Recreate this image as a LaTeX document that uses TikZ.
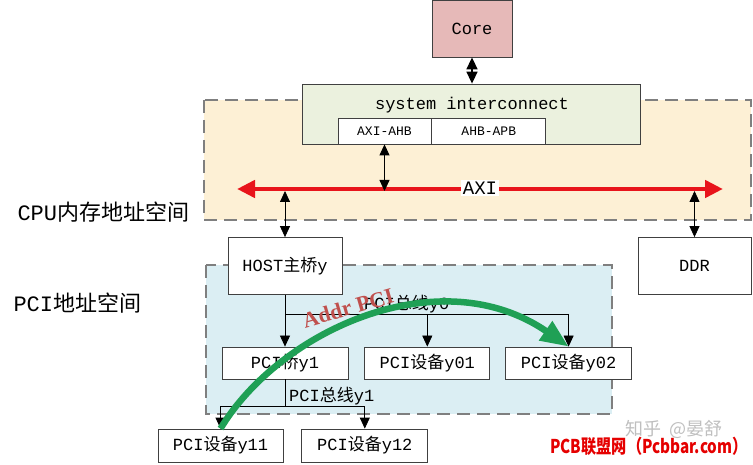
\documentclass[tikz,border=0pt]{standalone}
\usepackage{fontspec}
\setmainfont{Liberation Mono}
\newfontfamily\cjk{Noto Sans CJK SC}
\newfontfamily\wmfont[FakeStretch=0.8]{Noto Sans CJK SC}
\newfontfamily\addrfont{Liberation Serif}
\usetikzlibrary{arrows.meta,positioning}

\definecolor{coreFill}{HTML}{E6B9B8}
\definecolor{sicFill}{HTML}{EBF1DE}
\definecolor{cpuFill}{HTML}{FDF0D5}
\definecolor{pciFill}{HTML}{DBEEF3}
\definecolor{axiRed}{HTML}{E8141B}
\definecolor{pathGreen}{HTML}{1FA055}
\definecolor{addrRed}{HTML}{C0504D}
\definecolor{edgeGray}{HTML}{7F7F7F}
\definecolor{boxGray}{HTML}{404040}

\tikzset{
  box/.style={draw=boxGray, line width=0.8pt, fill=white, inner sep=0pt,
    font=\fontsize{17}{20}\selectfont},
  region/.style={draw=edgeGray, line width=1.5pt, dash pattern=on 13pt off 7pt},
  arr/.style={-{Triangle[length=11pt,width=10pt]}, line width=0.8pt},
  dbl/.style={{Triangle[length=11pt,width=10pt]}-{Triangle[length=11pt,width=10pt]}, line width=0.8pt},
  space/.style={anchor=west, font=\fontsize{22}{26}\selectfont},
  buslabel/.style={anchor=south west, inner sep=1pt, font=\fontsize{17}{20}\selectfont},
}

\begin{document}
\begin{tikzpicture}[x=1pt, y=-1pt]
		\useasboundingbox (0,0) rectangle (753,465);
		
		% ---------------------- 两个地址空间（虚线底框）----------------------
		\draw[region, fill=cpuFill] (204,100) rectangle (751,220);
		\draw[region, fill=pciFill] (206,265) rectangle (612,414);
		\node (cpuspace) [space] at (14,212) {CPU{\cjk 内存地址空间}};
		\node (pcispace) [space] at (10,303) {PCI{\cjk 地址空间}};
		
		% ---------------------- Core 与 system interconnect ----------------------
		\node (core) [box, fill=coreFill, minimum width=80, minimum height=57] at (472,28.5) {Core};
		\node (sic) [box, fill=sicFill, minimum width=338, minimum height=60] at (471,114) {};
		\node (sictext) [font=\fontsize{17}{20}\selectfont] at (472,105) {system interconnect};
		\node (axiahb) [box, minimum width=93, minimum height=26, font=\fontsize{13}{16}\selectfont] at (384.5,131) {AXI-AHB};
		\node (ahbapb) [box, minimum width=114, minimum height=26, font=\fontsize{13}{16}\selectfont, right=0pt of axiahb] {AHB-APB};
		\draw[{Triangle[length=12pt,width=11pt]}-{Triangle[length=12pt,width=11pt]}, line width=1.6pt] (core) -- (sic.north -| core);
		
		% ---------------------- AXI 总线 ----------------------
		\coordinate (axiL) at (237,189);
		\coordinate (axiR) at (723,189);
		\draw[axiRed, line width=4.5pt, {Triangle[length=18pt,width=17pt]}-{Triangle[length=18pt,width=17pt]}] (axiL) -- (axiR);
		\node (axilabel) [fill=white, inner sep=1.5pt, font=\fontsize{19}{22}\selectfont] at (480,188) {AXI};
		\draw[dbl] (axiahb.south) -- ([yshift=-2pt]axiahb.south |- axiL);
		
		% ---------------------- HOST 与 DDR ----------------------
		\node (host) [box, minimum width=114, minimum height=57] at (285,266) {HOST{\cjk 主桥}y};
		\node (ddr) [box, minimum width=113, minimum height=57] at (694.5,266) {DDR};
		\draw[dbl] ([yshift=-2pt]host.north |- axiL) -- (host.north);
		\draw[dbl] ([yshift=-2pt]ddr.north |- axiL) -- (ddr.north);
		
		% ---------------------- PCI 总线 y0 ----------------------
		\node (bridge) [box, minimum width=126, minimum height=32] at (285,363) {PCI{\cjk 桥}y1};
		\node (dev01) [box, minimum width=125, minimum height=32, right=16pt of bridge] {PCI{\cjk 设备}y01};
		\node (dev02) [box, minimum width=126, minimum height=32, right=15pt of dev01] {PCI{\cjk 设备}y02};
		\coordinate (bus0) at (285,314);
		\draw[arr] (host) -- (bridge);
		\draw[line width=0.8pt] (bus0) -- (dev02.north |- bus0);
		\foreach \d in {dev01,dev02}
			\draw[arr] (\d.north |- bus0) -- (\d.north); % 从总线向下接设备
		\node (bus0label) [buslabel] at (363,314) {PCI{\cjk 总线}y0};
		
		% ---------------------- PCI 总线 y1 ----------------------
		\node (dev11) [box, minimum width=125, minimum height=33] at (220.5,445.5) {PCI{\cjk 设备}y11};
		\node (dev12) [box, minimum width=126, minimum height=33, right=18pt of dev11] {PCI{\cjk 设备}y12};
		\coordinate (bus1) at (285,406);
		\draw[line width=0.8pt] (bridge) -- (bus1);
		\draw[line width=0.8pt] (dev11.north |- bus1) -- (dev12.north |- bus1);
		\foreach \d in {dev11,dev12}
			\draw[arr] (\d.north |- bus1) -- (\d.north);
		\node (bus1label) [buslabel] at (288,406) {PCI{\cjk 总线}y1};
		
		% ---------------------- 访问路径（绿色弧线）----------------------
		\draw[pathGreen, line width=6.5pt, -{Triangle[length=28pt,width=22pt]}]
			(dev11.north) .. controls (280,330) and (440,258) .. (dev02.north);
		\node (addr) [rotate=16, text=addrRed, font=\addrfont\bfseries\fontsize{22}{26}\selectfont] at (348,308) {Addr PCI};
		
		% ---------------------- 水印 ----------------------
		\node (zhihu) [text=black!25, font=\cjk\fontsize{18}{21}\selectfont] at (674,429) {知乎 \ @晏舒};
		\node (pcbbar) [text=red!90!black, font=\wmfont\bfseries\fontsize{19}{22}\selectfont] at (649,446) {PCB联盟网（Pcbbar.com）};
	\end{tikzpicture}
\end{document}
